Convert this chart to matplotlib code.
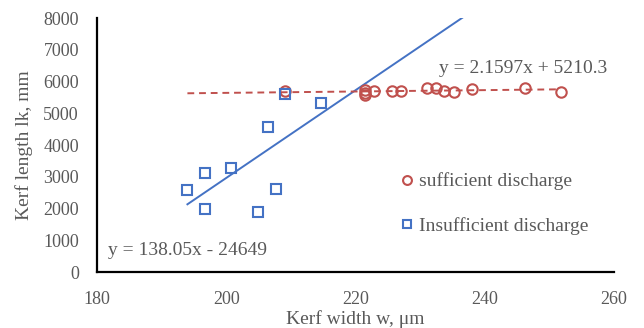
import matplotlib
matplotlib.use('Agg')
import matplotlib.pyplot as plt
import numpy as np

plt.rcParams['font.family'] = ['Liberation Serif', 'DejaVu Serif']

# Insufficient discharge (squares)
w_insuf = [194.0, 196.7, 196.7, 200.8, 204.9, 206.4, 207.7, 209.1, 214.7]
l_insuf = [2580, 3110, 1975, 3280, 1890, 4560, 2610, 5600, 5310]

# Sufficient discharge (circles)
w_suf = [209.1, 221.5, 221.5, 221.5, 222.9, 225.6, 227.0, 231.1, 232.5,
         233.8, 235.2, 238.1, 246.2, 251.8]
l_suf = [5710, 5730, 5650, 5580, 5710, 5710, 5710, 5785, 5785,
         5710, 5660, 5765, 5790, 5680]

# trend lines (from the chart labels)
fit_insuf = (138.05, -24649)
fit_suf = (2.1597, 5210.3)

blue = '#4472C4'
red = '#C0504D'
gray = '#595959'

fig = plt.figure(figsize=(6.44, 3.28), dpi=100)
ax = fig.add_axes([0.1506, 0.1707, 0.8024, 0.7744])

# trendlines
xs = np.array([min(w_insuf), max(w_insuf) + 30])
ax.plot(xs, fit_insuf[0] * xs + fit_insuf[1], color=blue, lw=1.4, zorder=2)
xr = np.array([min(w_insuf), max(w_suf)])
ax.plot(xr, fit_suf[0] * xr + fit_suf[1], color=red, lw=1.4,
        ls=(0, (3.5, 2.5)), zorder=2)

ax.plot(w_suf, l_suf, 'o', mfc='none', mec=red, mew=1.5, ms=7.5,
        label='sufficient discharge', zorder=3)
ax.plot(w_insuf, l_insuf, 's', mfc='none', mec=blue, mew=1.5, ms=7.5,
        label='Insufficient discharge', zorder=3)

ax.set_xlim(180, 260)
ax.set_ylim(0, 8000)
ax.set_xticks(np.arange(180, 261, 20))
ax.set_yticks(np.arange(0, 8001, 1000))

for s in ['top', 'right']:
    ax.spines[s].set_visible(False)
for s in ['left', 'bottom']:
    ax.spines[s].set_linewidth(1.6)
    ax.spines[s].set_color('black')

ax.tick_params(length=0, labelsize=13, colors=gray)
ax.tick_params(axis='y', pad=13)
ax.tick_params(axis='x', pad=14)
ax.set_xlabel('Kerf width w, μm', fontsize=14, color=gray, labelpad=1)
ax.set_ylabel('Kerf length lk, mm', fontsize=14, color=gray, labelpad=7)

ax.text(181.7, 680, 'y = 138.05x - 24649', fontsize=14, color=gray,
        va='center', ha='left')
ax.text(233.0, 6420, 'y = 2.1597x + 5210.3', fontsize=14, color=gray,
        va='center', ha='left')

leg = ax.legend(loc='upper left', bbox_to_anchor=(0.575, 0.422), frameon=False,
                fontsize=14, labelspacing=1.35, handlelength=0.5,
                handletextpad=0.4, borderaxespad=0, markerscale=0.85)
for t in leg.get_texts():
    t.set_color(gray)

fig.savefig('out.png', dpi=100)
